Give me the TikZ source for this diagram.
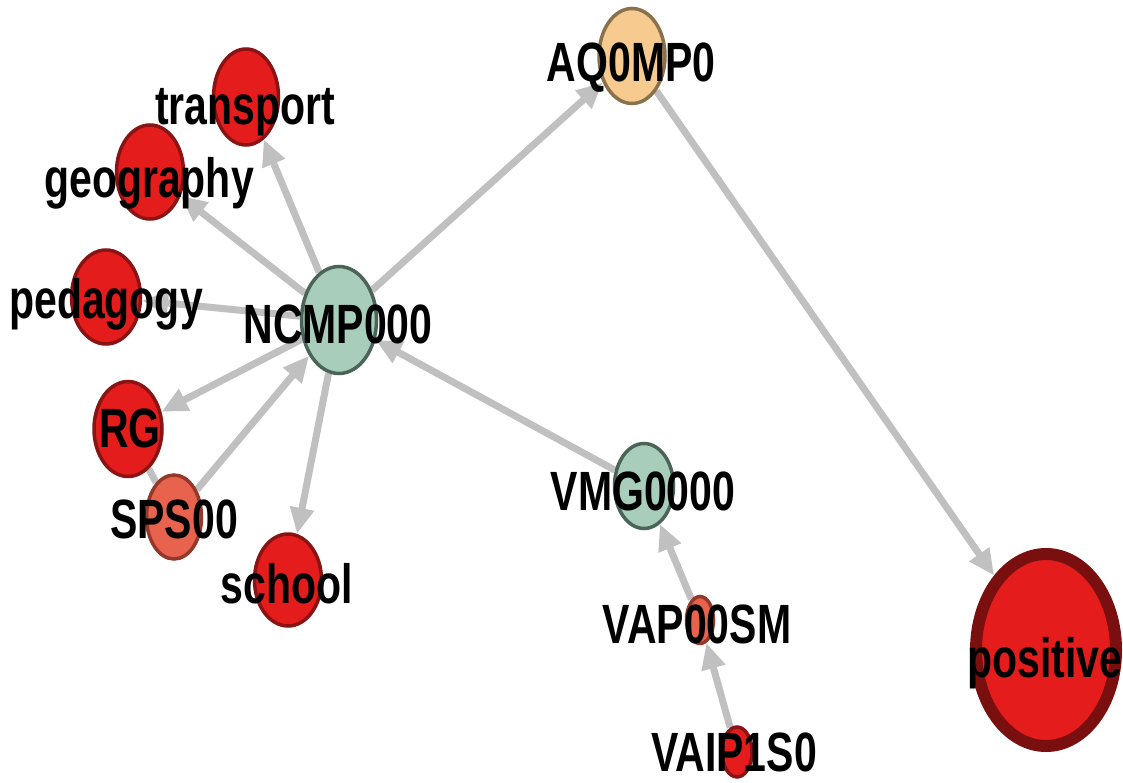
\documentclass[tikz,border=0pt]{standalone}
\usepackage{fontspec}
\setmainfont{Liberation Sans}
\usepackage{graphicx}
\usetikzlibrary{shapes.geometric,arrows.meta,backgrounds}
\definecolor{nodered}{HTML}{E41C1C}
\definecolor{rededge}{HTML}{8A1414}
\definecolor{salmon}{HTML}{E8634D}
\definecolor{salmonedge}{HTML}{94382A}
\definecolor{teal}{HTML}{A8CDBA}
\definecolor{tealedge}{HTML}{4A6558}
\definecolor{peach}{HTML}{F7CB8F}
\definecolor{peachedge}{HTML}{8A714C}
\definecolor{darkred}{HTML}{7A0F0F}
\definecolor{edgegray}{HTML}{C0C0C0}
\newcommand\lbl[1]{\scalebox{1}[1.35]{\fontsize{41}{41}\selectfont\bfseries #1}}
\begin{document}
\begin{tikzpicture}[x=1pt,y=-1pt,
  nd/.style={ellipse, line width=3.5pt, inner sep=0pt},
  rednd/.style={nd, fill=nodered, draw=rededge},
  salnd/.style={nd, fill=salmon, draw=salmonedge},
  tealnd/.style={nd, fill=teal, draw=tealedge},
  peachnd/.style={nd, fill=peach, draw=peachedge},
  sz/.style 2 args={minimum width=#1pt, minimum height=#2pt},
  link/.style={draw=edgegray, line width=7pt, -{Triangle[length=26pt,width=23pt]}},
  plainlink/.style={draw=edgegray, line width=7pt},
  lab/.style={inner sep=0pt, anchor=base, text=black}]
\useasboundingbox (0,0) rectangle (1123,783);
% nodes
\node[rednd, sz={65}{96}] (transport) at (246,97) {};
\node[rednd, sz={67}{94}] (geography) at (150,172) {};
\node[rednd, sz={69}{94}] (pedagogy) at (106,297) {};
\node[tealnd, sz={75}{107}] (ncmp) at (339,320) {};
\node[rednd, sz={68}{95}] (rg) at (128,429) {};
\node[salnd, sz={55}{84}] (sps) at (174,517) {};
\node[rednd, sz={67}{92}] (school) at (288,580) {};
\node[peachnd, sz={66}{95}] (aq) at (632,56) {};
\node[tealnd, sz={59}{85}] (vmg) at (644,486) {};
\node[salnd, sz={27}{47}] (vap) at (700,620) {};
\node[rednd, sz={30}{50}] (vaip) at (737,752) {};
\node[nd, fill=nodered, draw=darkred, line width=12pt, sz={140}{192}] (positive) at (1046,650) {};
% edges
\begin{pgfonlayer}{background}
\fill[white] (0,0) rectangle (1123,783);
\path[link] (ncmp) -- (aq);
\path[link] (aq) -- (positive);
\path[link] (ncmp) -- (transport);
\path[link] (ncmp) -- (geography);
\path[link] (ncmp) -- (pedagogy);
\path[link] (ncmp) -- (rg);
\path[link] (sps) -- (ncmp);
\path[link] (ncmp) -- (school);
\path[link] (vmg) -- (ncmp);
\path[link] (vap) -- (vmg);
\path[link] (vaip) -- (vap);
\path[plainlink] (rg) -- (sps);
\end{pgfonlayer}
% labels
\node[lab] (ltransport) at (245,125) {\lbl{transport}};
\node[lab] (lgeography) at (149,198) {\lbl{geography}};
\node[lab] (lpedagogy) at (106,318) {\lbl{pedagogy}};
\node[lab] (lncmp) at (338,343) {\lbl{NCMP000}};
\node[lab] (lrg) at (130,447) {\lbl{RG}};
\node[lab] (lsps) at (174,538) {\lbl{SPS00}};
\node[lab] (lschool) at (287,603) {\lbl{school}};
\node[lab] (laq) at (631,82) {\lbl{AQ0MP0}};
\node[lab] (lvmg) at (643,510) {\lbl{VMG0000}};
\node[lab] (lvap) at (697,643) {\lbl{VAP00SM}};
\node[lab] (lvaip) at (734,771) {\lbl{VAIP1S0}};
\node[lab] (lpositive) at (1045,677) {\lbl{positive}};
\end{tikzpicture}
\end{document}
